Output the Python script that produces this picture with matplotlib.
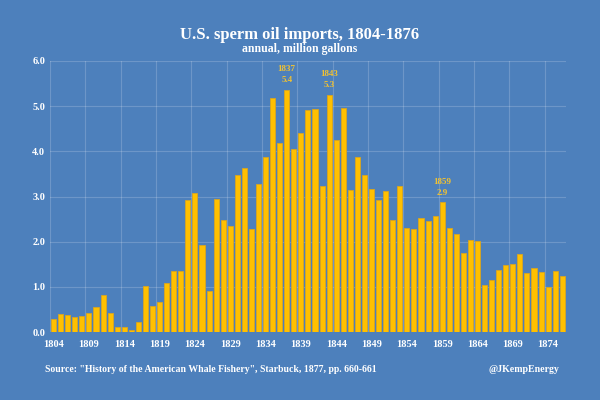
import numpy as np
import matplotlib
matplotlib.use("Agg")
import matplotlib.pyplot as plt

years = np.arange(1804, 1877)
imports = [0.29, 0.40, 0.37, 0.34, 0.35, 0.43, 0.55, 0.83, 0.42, 0.11,
           0.10, 0.04, 0.22, 1.02, 0.58, 0.66, 1.08, 1.35, 1.34, 2.92,
           3.08, 1.92, 0.91, 2.94, 2.47, 2.34, 3.47, 3.63, 2.29, 3.28,
           3.88, 5.17, 4.19, 5.36, 4.06, 4.40, 4.92, 4.94, 3.23, 5.25,
           4.24, 4.96, 3.14, 3.88, 3.47, 3.17, 2.92, 3.12, 2.48, 3.24,
           2.31, 2.28, 2.53, 2.45, 2.57, 2.87, 2.30, 2.17, 1.75, 2.04,
           2.01, 1.04, 1.15, 1.37, 1.48, 1.50, 1.73, 1.30, 1.41, 1.32,
           1.00, 1.34, 1.25]
peak_years = [1837, 1843, 1859]
peak_labels = ["5.4", "5.3", "2.9"]

bg = "#4d80bc"
gold = "#ffc000"
plt.rcParams['font.family'] = ['Liberation Serif', 'DejaVu Serif']
plt.rcParams['font.weight'] = 'bold'

fig = plt.figure(figsize=(6, 4), dpi=100, facecolor=bg)
ax = fig.add_axes([0.0835, 0.17, 0.8595, 0.6775], facecolor=bg)

ax.bar(years, imports, width=0.72, color=gold, edgecolor="#d9a520", linewidth=0.6, zorder=3)

for yr, lab in zip(peak_years, peak_labels):
    v = imports[yr - 1804]
    ax.text(yr, v + 0.12, f"{yr}\n{lab}", ha="center", va="bottom", color="#f2c230",
            fontsize=6.5, fontweight="bold", linespacing=1.5)

ax.set_xlim(1803.5, 1876.5)
ax.set_ylim(0, 6.0)
ax.set_yticks(np.arange(0, 6.1, 1.0))
ax.set_yticklabels([f"{v:.1f}" for v in np.arange(0, 6.1, 1.0)])
ax.set_xticks(np.arange(1804, 1877, 5))
ax.set_xticks(np.arange(1803.5, 1877, 5), minor=True)
ax.tick_params(axis="both", which="both", length=0, colors="white", labelsize=7.5)
ax.tick_params(axis="x", pad=6)
ax.grid(axis="y", color="white", alpha=0.18, linewidth=0.8, zorder=0)
ax.grid(axis="x", which="minor", color="white", alpha=0.18, linewidth=0.8, zorder=0)
for s in ax.spines.values():
    s.set_visible(False)

fig.text(0.5, 0.913, "U.S. sperm oil imports, 1804-1876", ha="center", va="center",
         color="white", fontsize=12, fontweight="bold")
fig.text(0.5, 0.877, "annual, million gallons", ha="center", va="center",
         color="white", fontsize=8.5, fontweight="bold")
fig.text(0.075, 0.075, 'Source: "History of the American Whale Fishery", Starbuck, 1877, pp. 660-661',
         ha="left", va="center", color="white", fontsize=7, fontweight="bold")
fig.text(0.932, 0.075, "@JKempEnergy", ha="right", va="center",
         color="white", fontsize=7.1, fontweight="bold")

fig.savefig("out.png", dpi=100, facecolor=bg)
